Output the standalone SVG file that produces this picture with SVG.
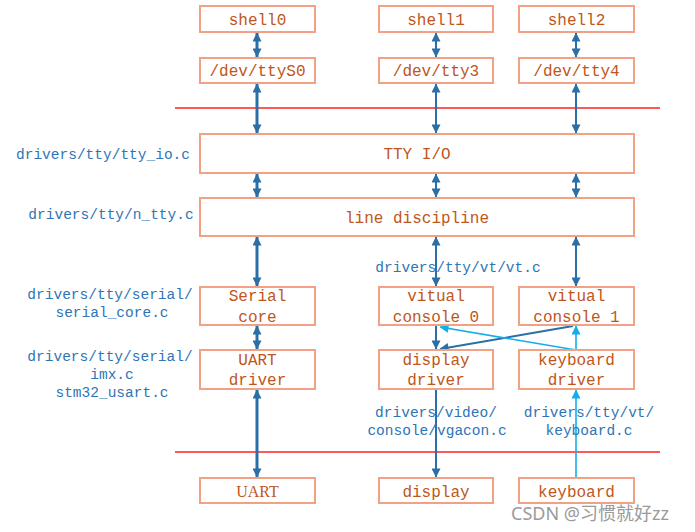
<svg xmlns="http://www.w3.org/2000/svg" width="695" height="532" viewBox="0 0 695 532">
<defs>
<marker id="ad" viewBox="0 0 10 10" refX="9.5" refY="5" markerWidth="10" markerHeight="9" orient="auto-start-reverse" markerUnits="userSpaceOnUse"><path d="M0,0 L10,5 L0,10 z" fill="#2a6fa6"/></marker>
<marker id="al" viewBox="0 0 10 10" refX="9.5" refY="5" markerWidth="10" markerHeight="9" orient="auto-start-reverse" markerUnits="userSpaceOnUse"><path d="M0,0 L10,5 L0,10 z" fill="#12aee8"/></marker>
</defs>
<style>
.b{fill:#fff;stroke:#f2a184;stroke-width:2}
.t{font-family:"Liberation Mono",monospace;font-size:16px;fill:#c0561a;text-anchor:middle}
.s{font-family:"Liberation Serif",serif;font-size:16px;fill:#c0561a;text-anchor:middle}
.l{font-family:"Liberation Mono",monospace;font-size:14.5px;fill:#2e75b6;text-anchor:middle}
.d{stroke:#2a6fa6;stroke-width:2;fill:none}
.dt{stroke:#2a6fa6;stroke-width:3;fill:none}
.c{stroke:#12aee8;stroke-width:1.6;fill:none}
.r{stroke:#ff2020;stroke-width:1.5}
</style>
<line class="r" x1="175" y1="108" x2="660" y2="108"/>
<line class="r" x1="175" y1="452" x2="660" y2="452"/>
<g id="connectors">
<line class="dt" x1="257" y1="33" x2="257" y2="57" marker-start="url(#ad)" marker-end="url(#ad)"/>
<line class="d" x1="436" y1="33" x2="436" y2="57" marker-start="url(#ad)" marker-end="url(#ad)"/>
<line class="d" x1="576" y1="33" x2="576" y2="57" marker-start="url(#ad)" marker-end="url(#ad)"/>
<line class="dt" x1="257" y1="84" x2="257" y2="133" marker-start="url(#ad)" marker-end="url(#ad)"/>
<line class="d" x1="436" y1="84" x2="436" y2="133" marker-start="url(#ad)" marker-end="url(#ad)"/>
<line class="d" x1="576" y1="84" x2="576" y2="133" marker-start="url(#ad)" marker-end="url(#ad)"/>
<line class="dt" x1="257" y1="174" x2="257" y2="197" marker-start="url(#ad)" marker-end="url(#ad)"/>
<line class="d" x1="436" y1="174" x2="436" y2="197" marker-start="url(#ad)" marker-end="url(#ad)"/>
<line class="d" x1="576" y1="174" x2="576" y2="197" marker-start="url(#ad)" marker-end="url(#ad)"/>
<line class="dt" x1="257" y1="237" x2="257" y2="286" marker-start="url(#ad)" marker-end="url(#ad)"/>
<line class="d" x1="436" y1="237" x2="436" y2="286" marker-start="url(#ad)" marker-end="url(#ad)"/>
<line class="d" x1="576" y1="237" x2="576" y2="286" marker-start="url(#ad)" marker-end="url(#ad)"/>
<line class="dt" x1="257" y1="326" x2="257" y2="349" marker-start="url(#ad)" marker-end="url(#ad)"/>
<line class="dt" x1="257" y1="390" x2="257" y2="477" marker-start="url(#ad)" marker-end="url(#ad)"/>
<line class="d" x1="436" y1="326" x2="436" y2="349" marker-end="url(#ad)"/>
<line class="d" x1="573" y1="326" x2="440" y2="349" marker-end="url(#ad)"/>
<line class="c" x1="576" y1="350" x2="440" y2="327" marker-end="url(#al)"/>
<line class="c" x1="576" y1="350" x2="576" y2="326" marker-end="url(#al)"/>
<line class="d" x1="436" y1="390" x2="436" y2="477" marker-end="url(#ad)"/>
<line class="c" x1="576" y1="478" x2="576" y2="390" marker-end="url(#al)"/>
</g>
<g id="shell0"><rect class="b" x="200" y="6" width="115" height="26"/><text class="t" x="257.5" y="25">shell0</text></g>
<g id="shell1"><rect class="b" x="379" y="6" width="114" height="26"/><text class="t" x="436" y="25">shell1</text></g>
<g id="shell2"><rect class="b" x="519" y="6" width="115" height="26"/><text class="t" x="576.5" y="25">shell2</text></g>
<g id="ttyS0"><rect class="b" x="200" y="58" width="115" height="25"/><text class="t" x="257.5" y="76">/dev/ttyS0</text></g>
<g id="tty3"><rect class="b" x="379" y="58" width="114" height="25"/><text class="t" x="436" y="76">/dev/tty3</text></g>
<g id="tty4"><rect class="b" x="519" y="58" width="115" height="25"/><text class="t" x="576.5" y="76">/dev/tty4</text></g>
<g id="ttyio"><rect class="b" x="200" y="134" width="434" height="39"/><text class="t" x="417" y="159">TTY I/O</text></g>
<g id="ldisc"><rect class="b" x="200" y="198" width="434" height="38"/><text class="t" x="417" y="223">line discipline</text></g>
<g id="serialcore"><rect class="b" x="200" y="287" width="115" height="38"/><text class="t" x="257.5" y="301">Serial</text><text class="t" x="257.5" y="322">core</text></g>
<g id="vc0"><rect class="b" x="379" y="287" width="114" height="38"/><text class="t" x="436" y="301">vitual</text><text class="t" x="436" y="322">console 0</text></g>
<g id="vc1"><rect class="b" x="519" y="287" width="115" height="38"/><text class="t" x="576.5" y="301">vitual</text><text class="t" x="576.5" y="322">console 1</text></g>
<g id="uartdrv"><rect class="b" x="200" y="350" width="115" height="39"/><text class="t" x="257.5" y="365">UART</text><text class="t" x="257.5" y="385">driver</text></g>
<g id="dispdrv"><rect class="b" x="379" y="350" width="114" height="39"/><text class="t" x="436" y="365">display</text><text class="t" x="436" y="385">driver</text></g>
<g id="kbddrv"><rect class="b" x="519" y="350" width="115" height="39"/><text class="t" x="576.5" y="365">keyboard</text><text class="t" x="576.5" y="385">driver</text></g>
<g id="uart"><rect class="b" x="200" y="478" width="115" height="25"/><text class="s" x="257.5" y="497">UART</text></g>
<g id="display"><rect class="b" x="379" y="478" width="114" height="25"/><text class="t" x="436" y="497">display</text></g>
<g id="keyboard"><rect class="b" x="519" y="478" width="115" height="25"/><text class="t" x="576.5" y="497">keyboard</text></g>
<g id="labels">
<text class="l" x="103" y="159">drivers/tty/tty_io.c</text>
<text class="l" x="111" y="219">drivers/tty/n_tty.c</text>
<text class="l" x="110" y="299">drivers/tty/serial/</text>
<text class="l" x="112" y="317">serial_core.c</text>
<text class="l" x="110" y="361">drivers/tty/serial/</text>
<text class="l" x="112" y="379">imx.c</text>
<text class="l" x="112" y="397">stm32_usart.c</text>
<text class="l" x="458" y="272">drivers/tty/vt/vt.c</text>
<text class="l" x="436" y="417">drivers/video/</text>
<text class="l" x="437" y="435">console/vgacon.c</text>
<text class="l" x="589" y="417">drivers/tty/vt/</text>
<text class="l" x="589" y="435">keyboard.c</text>
</g>
<text x="511" y="520" font-family="'Noto Sans','Noto Sans CJK SC',sans-serif" font-size="18" fill="#9a9a9a">CSDN @习惯就好zz</text>
</svg>
